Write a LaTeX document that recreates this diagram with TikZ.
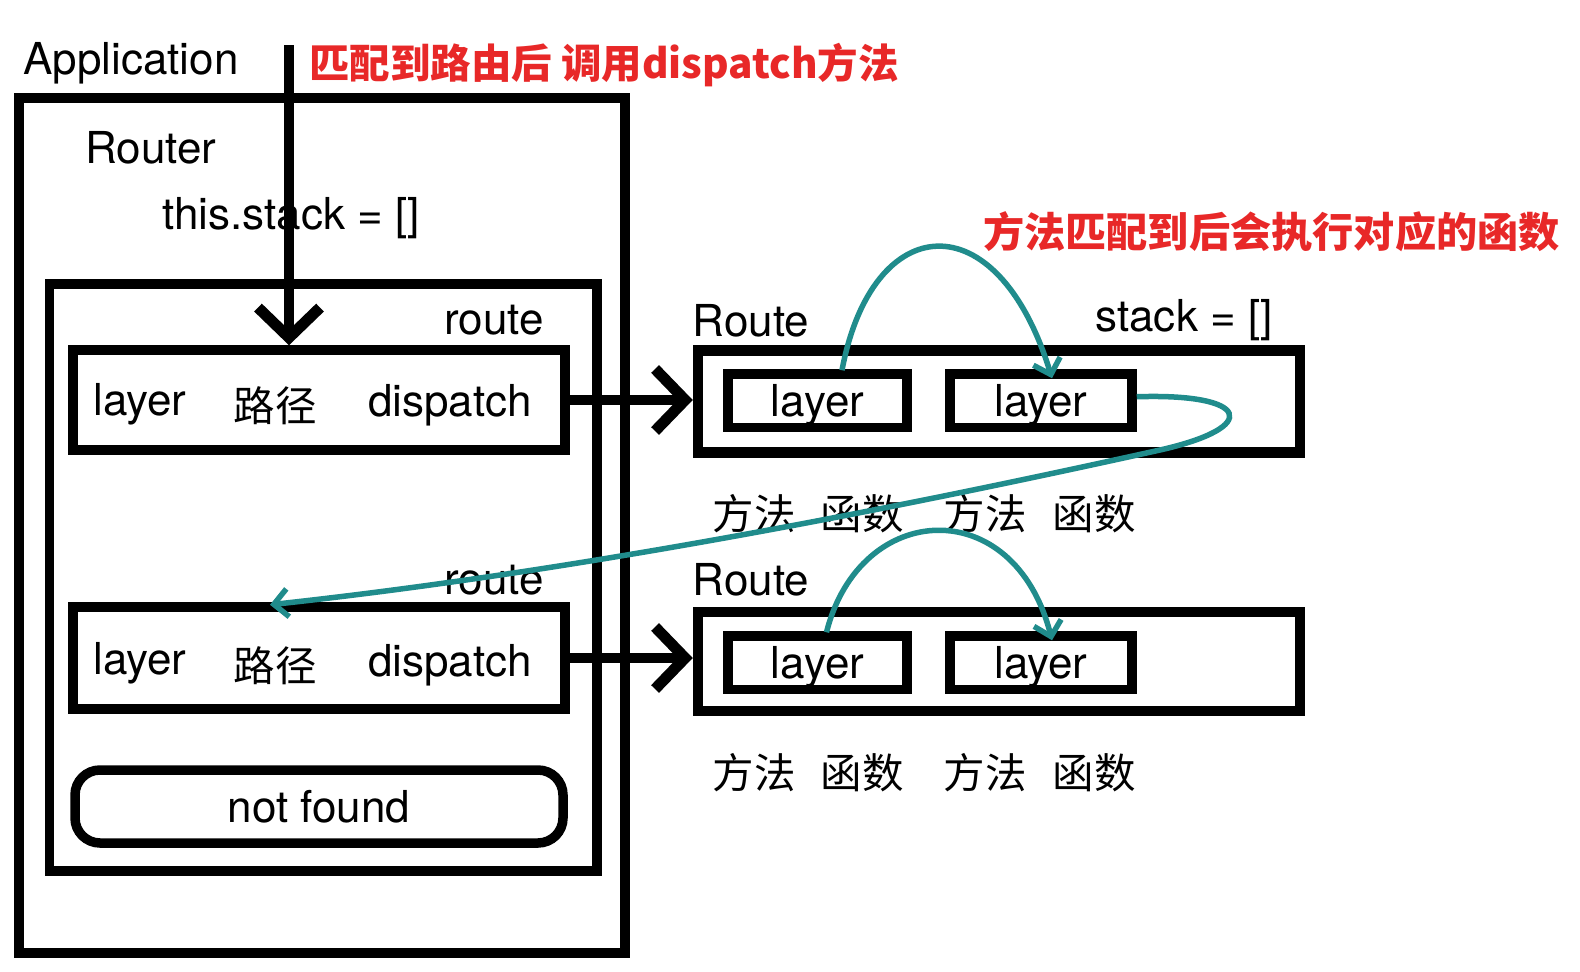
\documentclass[tikz,border=0pt]{standalone}
\usepackage{fontspec}
\setmainfont{TeX Gyre Heros}
\newfontfamily\cjk{Noto Sans CJK SC}
\usetikzlibrary{arrows.meta,calc}
\definecolor{tealc}{RGB}{32,140,140}
\definecolor{redc}{RGB}{232,40,40}
\begin{document}
\begin{tikzpicture}[x=1pt,y=-1pt,
  box/.style={draw,line width=9.5pt,inner sep=0pt},
  rbox/.style={draw,line width=10.5pt,inner sep=0pt},
  latinfont/.style={font=\fontsize{44}{52}\selectfont},
  lab/.style={inner sep=0pt,latinfont},
  inbox/.style={box,minimum height=53.5pt,latinfont,text depth=0pt},
  zh/.style={inner sep=0pt,font=\fontsize{41.5}{50}\selectfont\cjk},
  redlab/.style={inner sep=0pt,text=redc,font=\fontsize{#1}{50}\selectfont\cjk\bfseries},
  blackarrow/.style={line width=10pt,-{Straight Barb[length=30pt,width=62pt,line width=11pt]}},
  tealarrow/.style={draw=tealc,line width=5.5pt,-{Straight Barb[length=14pt,width=28pt,line width=5.5pt]}}
]
\useasboundingbox (0,0) rectangle (1580,972);
\fill[white] (0,0) rectangle (1580,972);

% Application / Router
\node[box,minimum width=606pt,minimum height=855pt] (app) at (322,525.5) {};
\node[lab] (appl) at (131,63) {Application};
\node[box,minimum width=547.5pt,minimum height=587pt] (router) at (323.25,577.5) {};
\node[lab] (routerl) at (151,148) {Router};
\node[lab] (stackl) at (291,218) {this.stack = []};

% route 1
\node[lab] (route1l) at (494,320) {route};
\node[box,minimum width=492pt,minimum height=100pt] (l1) at (319,400) {};
\node[lab] (l1a) at (140,404) {layer};
\node[zh] (l1b) at (275,406) {路径};
\node[lab] (l1c) at (450,405) {dispatch};

% route 2
\node[lab] (route2l) at (494,580) {route};
\node[box,minimum width=492pt,minimum height=102pt] (l2) at (319,658) {};
\node[lab] (l2a) at (140,663) {layer};
\node[zh] (l2b) at (275,666) {路径};
\node[lab] (l2c) at (450,665) {dispatch};

% not found
\node[box,rounded corners=25pt,minimum width=488pt,minimum height=73pt,latinfont] (nf) at (319,806.5) {not found};

% Route 1
\node[lab] (r1l) at (751,320.5) {Route};
\node[lab] (r1s) at (1184,320.5) {stack = []};
\node[rbox,minimum width=602pt,minimum height=102pt] (r1) at (999,401.5) {};
\node[inbox,minimum width=179pt] (r1a) at (817.5,400.75) {layer};
\node[inbox,minimum width=182pt] (r1b) at (1041,400.75) {layer};
\node[zh] (m1a) at (754,514) {方法};
\node[zh] (f1a) at (862,514) {函数};
\node[zh] (m1b) at (985,514) {方法};
\node[zh] (f1b) at (1094,514) {函数};

% Route 2
\node[lab] (r2l) at (751,580) {Route};
\node[rbox,minimum width=602pt,minimum height=99pt] (r2) at (999,661.5) {};
\node[inbox,minimum width=179pt] (r2a) at (817.5,662.75) {layer};
\node[inbox,minimum width=182pt] (r2b) at (1041,662.75) {layer};
\node[zh] (m2a) at (754,773) {方法};
\node[zh] (f2a) at (862,773) {函数};
\node[zh] (m2b) at (985,773) {方法};
\node[zh] (f2b) at (1094,773) {函数};

% red notes
\node[redlab=40.5] (note1) at (604,65.5) {匹配到路由后 调用dispatch方法};
\node[redlab=41.2] (note2) at (1271.5,232) {方法匹配到后会执行对应的函数};

% black arrows
\coordinate (top) at (289,45);
\draw[blackarrow] (top) -- (top |- l1.north);
\draw[blackarrow] (l1.east) -- (l1.east -| r1.west);
\draw[blackarrow] (l2.east) -- (l2.east -| r2.west);

% teal arrows
\draw[tealarrow] ($(r1a.north)+(24.5,1)$) .. controls (872,210) and (997,199) .. ($(r1b.north)+(11,9)$);
\draw[tealarrow] ($(r2a.north)+(9,1)$) .. controls (860,500) and (1014,492) .. ($(r2b.north)+(11,9)$);
\draw[tealarrow] ($(r1b.east)+(0,-4)$) .. controls (1250,393) and (1262,427) .. (1160,450)
   .. controls (880,512) and (570,572) .. ($(l2.north)+(-49,2.5)$);
\end{tikzpicture}
\end{document}
